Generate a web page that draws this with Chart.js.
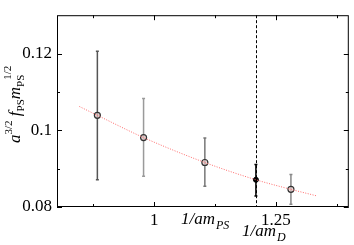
<!DOCTYPE html>
<html>
<head>
<meta charset="utf-8">
<script src="https://cdn.jsdelivr.net/npm/chart.js"></script>
<style>
  body { margin: 0; background: #fff; }
  #c { display: block; }
</style>
</head>
<body>
<canvas id="c" width="354" height="245"></canvas>
<script>
// lattice points (1/am_PS) with errors
const xInv = [0.883, 0.978, 1.104, 1.281];
const yVal = [0.1039, 0.0981, 0.0916, 0.0846];
const yTop = [0.1206, 0.1083, 0.0980, 0.0885];
const yBot = [0.0871, 0.0880, 0.0854, 0.0807];
const barColors = ['#555', '#9a9a9a', '#777', '#888'];

// interpolated value at the D meson mass
const xD = [1.209];
const yD = [0.0871];
const yDTop = [0.0911];
const yDBot = [0.0829];

// fit curve, red dotted
const xFit = [0.846, 0.883, 0.978, 1.104, 1.209, 1.281, 1.334];
const yFit = [0.1062, 0.1039, 0.0981, 0.0916, 0.0871, 0.0846, 0.0829];

const xMajor = [1, 1.25];
const xMinor = [0.875, 1.125, 1.375];
const yMajor = [0.08, 0.1, 0.12];
const yMinor = [0.09, 0.11];

const serif = '"Liberation Serif", "Times New Roman", serif';

// error bars, dashed line, frame, ticks and axis titles
const decor = {
  id: 'decor',
  beforeDatasetsDraw(chart) {
    const ctx = chart.ctx, a = chart.chartArea;
    const xs = chart.scales.x, ys = chart.scales.y;
    ctx.save();
    // dashed vertical line at 1/am_D
    ctx.strokeStyle = '#000';
    ctx.lineWidth = 1;
    ctx.setLineDash([3, 2]);
    const xd = Math.round(xs.getPixelForValue(xD[0])) + 0.5;
    ctx.beginPath();
    ctx.moveTo(xd, a.top);
    ctx.lineTo(xd, a.bottom);
    ctx.stroke();
    ctx.setLineDash([]);

    function bar(x, lo, hi, col, w) {
      const px = xs.getPixelForValue(x);
      const p1 = ys.getPixelForValue(lo), p2 = ys.getPixelForValue(hi);
      ctx.strokeStyle = col;
      ctx.lineWidth = w;
      ctx.beginPath();
      ctx.moveTo(px, p1); ctx.lineTo(px, p2);
      ctx.moveTo(px - 1.5, p1); ctx.lineTo(px + 1.5, p1);
      ctx.moveTo(px - 1.5, p2); ctx.lineTo(px + 1.5, p2);
      ctx.stroke();
    }
    xInv.forEach((x, i) => bar(x, yBot[i], yTop[i], barColors[i], 1.5));
    bar(xD[0], yDBot[0], yDTop[0], '#000', 1.5);
    ctx.restore();
  },
  afterDraw(chart) {
    const ctx = chart.ctx, a = chart.chartArea;
    const xs = chart.scales.x, ys = chart.scales.y;
    ctx.save();
    ctx.strokeStyle = '#000';
    ctx.lineWidth = 1;
    ctx.strokeRect(a.left + 0.5, a.top + 0.5, a.right - a.left - 1, a.bottom - a.top - 1);
    ctx.beginPath();
    function xt(v, len) {
      const p = Math.round(xs.getPixelForValue(v)) + 0.5;
      ctx.moveTo(p, a.bottom); ctx.lineTo(p, a.bottom - len);
      ctx.moveTo(p, a.top); ctx.lineTo(p, a.top + len);
    }
    function yt(v, len) {
      const p = Math.round(ys.getPixelForValue(v)) + 0.5;
      ctx.moveTo(a.left, p); ctx.lineTo(a.left + len, p);
      ctx.moveTo(a.right, p); ctx.lineTo(a.right - len, p);
    }
    xMajor.forEach(v => xt(v, 5));
    xMinor.forEach(v => xt(v, 3));
    yMajor.forEach(v => yt(v, 5));
    yMinor.forEach(v => yt(v, 3));
    ctx.stroke();

    // x axis titles
    ctx.fillStyle = '#000';
    ctx.textBaseline = 'alphabetic';
    ctx.textAlign = 'left';
    function label(x, y, main, sub) {
      ctx.font = 'italic 17px ' + serif;
      ctx.fillText(main, x, y);
      const w = ctx.measureText(main).width;
      ctx.font = 'italic 12px ' + serif;
      ctx.fillText(sub, x + w + 1, y + 5);
    }
    label(181, 224, '1/am', 'PS');
    label(242, 236, '1/am', 'D');

    // y axis title, rotated
    ctx.translate(20, 143);
    ctx.rotate(-Math.PI / 2);
    const parts = [
      ['a', 'italic 17px', 0],
      ['3/2', '11px', -8],
      [' f', 'italic 17px', 0],
      ['PS', '11px', 4],
      ['m', 'italic 17px', 0],
      ['PS', '11px', 4],
    ];
    let cx = 0;
    parts.forEach(p => {
      ctx.font = p[1] + ' ' + serif;
      ctx.fillText(p[0], cx, p[2]);
      cx += ctx.measureText(p[0]).width;
    });
    ctx.font = '11px ' + serif;
    ctx.fillText('1/2', cx - 5, -9);
    ctx.restore();
  }
};

new Chart(document.getElementById('c'), {
  data: {
    datasets: [
      {
        type: 'line',
        data: xFit.map((x, i) => ({ x: x, y: yFit[i] })),
        borderColor: '#ff6a6a',
        borderWidth: 1,
        borderDash: [1, 1.5],
        pointRadius: 0,
        tension: 0.4,
        cubicInterpolationMode: 'monotone',
        fill: false
      },
      {
        type: 'scatter',
        data: xInv.map((x, i) => ({ x: x, y: yVal[i] })),
        pointRadius: 3,
        pointBorderWidth: 1.2,
        pointBorderColor: '#333',
        pointBackgroundColor: 'rgba(225,200,200,0.7)'
      },
      {
        type: 'scatter',
        data: xD.map((x, i) => ({ x: x, y: yD[i] })),
        pointRadius: 2.5,
        pointBorderWidth: 1,
        pointBorderColor: '#000',
        pointBackgroundColor: '#000'
      }
    ]
  },
  options: {
    responsive: false,
    animation: false,
    devicePixelRatio: 1,
    layout: { padding: { top: 1, right: 2, left: 0, bottom: 0 } },
    plugins: { legend: { display: false }, tooltip: { enabled: false } },
    scales: {
      x: {
        type: 'linear',
        min: 0.8,
        max: 1.4,
        grid: { display: false, drawTicks: false },
        border: { display: false },
        afterBuildTicks: s => { s.ticks = xMajor.map(v => ({ value: v })); },
        afterFit: s => { s.height = 38; },
        ticks: {
          padding: 3,
          color: '#000',
          font: { family: serif, size: 17 },
          callback: v => String(v)
        }
      },
      y: {
        type: 'linear',
        min: 0.08,
        max: 0.13,
        grid: { display: false, drawTicks: false },
        border: { display: false },
        afterBuildTicks: s => { s.ticks = yMajor.map(v => ({ value: v })); },
        afterFit: s => { s.width = 57; },
        ticks: {
          padding: 5,
          color: '#000',
          font: { family: serif, size: 17 },
          callback: v => String(v)
        }
      }
    }
  },
  plugins: [decor]
});
</script>
</body>
</html>
